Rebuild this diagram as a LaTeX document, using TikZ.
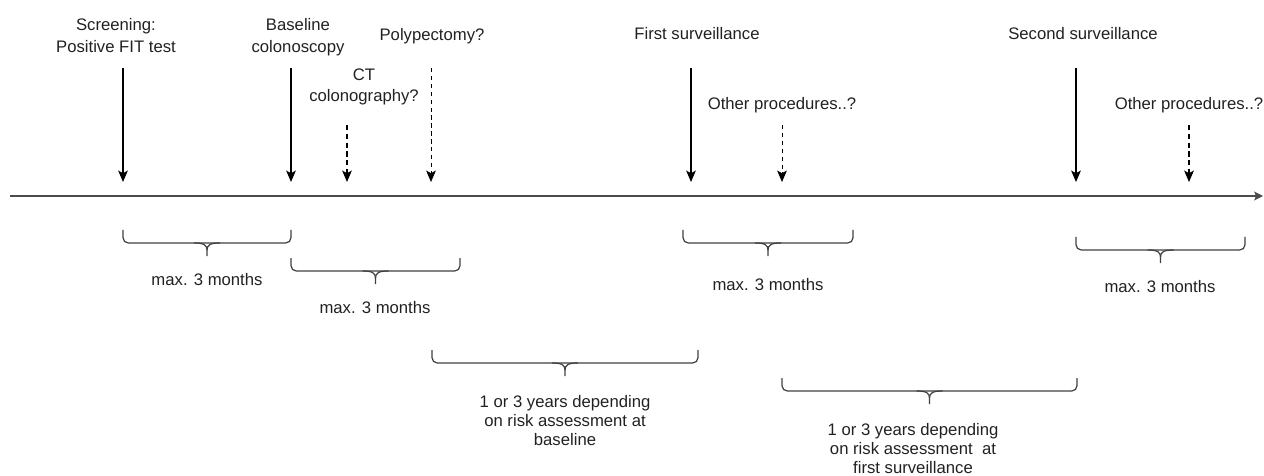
\documentclass[tikz,border=0pt]{standalone}
\usepackage{fontspec}
\setmainfont{Liberation Sans}
\usepackage{tikz}
\usetikzlibrary{arrows.meta}

% interval brace: left x, right x, top y (picture units)
\newcommand{\intbrace}[4]{%
  \draw[brc,rounded corners=3pt] (#1,#3) -- (#1,#3+13) -- (#2,#3+13) -- (#2,#3);
  \coordinate (#4) at ({(#1+#2)/2},#3+26);
  \draw[brc] ({(#1+#2)/2-13},#3+13) .. controls ({(#1+#2)/2-3},#3+13) and ({(#1+#2)/2},#3+15) .. ({(#1+#2)/2},#3+20) -- (#4);
  \draw[brc] ({(#1+#2)/2+13},#3+13) .. controls ({(#1+#2)/2+3},#3+13) and ({(#1+#2)/2},#3+15) .. ({(#1+#2)/2},#3+20);
}

\begin{document}
\begin{tikzpicture}[x=0.02cm,y=-0.02cm,
  font=\fontsize{9.5}{12.5}\selectfont,
  lbl/.style={align=center,anchor=north,inner sep=0pt,text=black!87},
  evt/.style={-{Stealth[length=6.5pt,width=5.5pt,inset=1.5pt]},line width=0.75pt},
  maybe/.style={evt,dash pattern=on 3pt off 2pt},
  maybethin/.style={evt,line width=0.4pt,dash pattern=on 2.5pt off 2pt},
  brc/.style={draw=black!75,line width=0.7pt}]
\useasboundingbox (0,0) rectangle (1264,476);

% time axis
\coordinate (axL) at (10,196);
\coordinate (axR) at (1263,196);
\draw[line width=1.1pt,draw=black!70,-{Stealth[length=5pt,width=5pt,inset=1pt]}] (axL) -- (axR);

% events
\coordinate (scrTop) at (123,68);   \coordinate (scrEnd) at (123,182);
\coordinate (colTop) at (291,68);   \coordinate (colEnd) at (291,182);
\coordinate (ctTop) at (347,125);   \coordinate (ctEnd) at (347,182);
\coordinate (polTop) at (431,68);   \coordinate (polEnd) at (431,182);
\coordinate (fsTop) at (691,68);    \coordinate (fsEnd) at (691,182);
\coordinate (op1Top) at (782,125);  \coordinate (op1End) at (782,182);
\coordinate (ssTop) at (1076,68);   \coordinate (ssEnd) at (1076,182);
\coordinate (op2Top) at (1189,125); \coordinate (op2End) at (1189,182);

\draw[evt] (scrTop) -- (scrEnd);
\draw[evt] (colTop) -- (colEnd);
\draw[maybe] (ctTop) -- (ctEnd);
\draw[maybethin] (polTop) -- (polEnd);
\draw[evt] (fsTop) -- (fsEnd);
\draw[maybethin] (op1Top) -- (op1End);
\draw[evt] (ssTop) -- (ssEnd);
\draw[maybe] (op2Top) -- (op2End);

\node[lbl] (scrLbl) at (116,18) {Screening:\\Positive FIT test};
\node[lbl] (colLbl) at (298,18) {Baseline\\colonoscopy};
\node[lbl] (ctLbl) at (364,68) {CT\\colonography?};
\node[lbl] (polLbl) at (432,28) {Polypectomy?};
\node[lbl] (fsLbl) at (697,27) {First surveillance};
\node[lbl] (op1Lbl) at (782,97) {Other procedures..?};
\node[lbl] (ssLbl) at (1083,27) {Second surveillance};
\node[lbl] (op2Lbl) at (1189,97) {Other procedures..?};

% intervals
\intbrace{123}{291}{230}{m1Tip}
\intbrace{291}{460}{258}{m2Tip}
\intbrace{683}{853}{230}{m3Tip}
\intbrace{1076}{1245}{237}{m4Tip}
\intbrace{432}{698}{350}{y1Tip}
\intbrace{782}{1077}{378}{y2Tip}

\node[lbl] (m1Lbl) at (207,273) {max. 3 months};
\node[lbl] (m2Lbl) at (375,301) {max. 3 months};
\node[lbl] (m3Lbl) at (768,278) {max. 3 months};
\node[lbl] (m4Lbl) at (1160,280) {max. 3 months};
\node[lbl,font=\fontsize{9.5}{10.8}\selectfont] (y1Lbl) at (565,395)
  {1 or 3 years depending\\on risk assessment at\\baseline};
\node[lbl,font=\fontsize{9.5}{10.8}\selectfont] (y2Lbl) at (913,423)
  {1 or 3 years depending\\on risk assessment\ \ at\\first surveillance};
\end{tikzpicture}
\end{document}
